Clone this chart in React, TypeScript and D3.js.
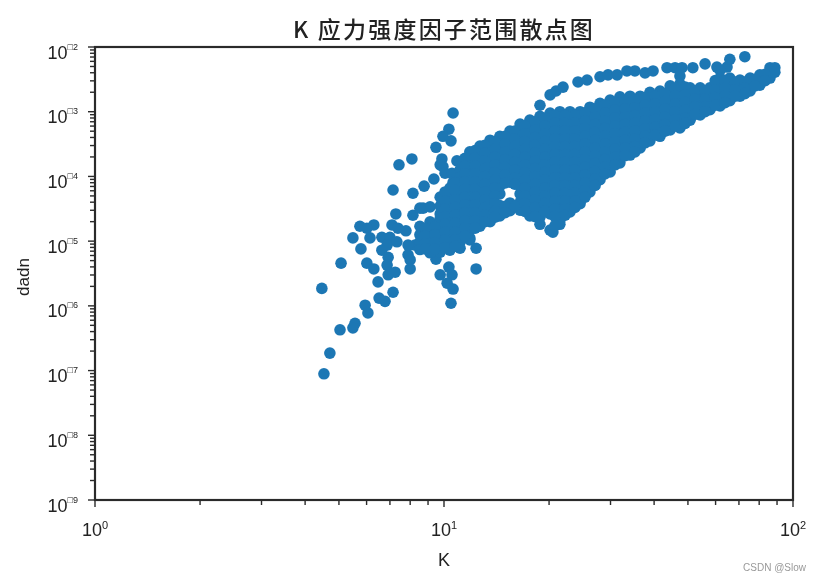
import React from "react";
import * as d3 from "d3";

const title = "K 应力强度因子范围散点图";
const xLabel = "K";
const yLabel = "dadn";
const credit = "CSDN @Slow";
const xDecades = [0, 1, 2];
const yDecades = [-2, -3, -4, -5, -6, -7, -8, -9];

// log10(K), log10(da/dn): scattered points on the left
const sparseLogK = [1.026,1.014,0.997,1.020,0.977,0.908,0.871,0.994,0.989,1.037,0.971,0.943,0.911,0.854,0.862,0.911,0.940,0.759,0.799,0.779,0.788,0.739,0.762,0.705,0.779,0.799,0.650,0.811,0.854,0.814,0.831,0.774,0.782,0.745,0.739,0.702,0.673,0.656,0.851,0.891,0.822,0.845,0.865,0.837,0.822,0.840,0.837,0.860,0.840,0.897,0.903,0.903,0.868,0.977,1.014,0.989,1.023,1.009,1.026,1.020,1.092,1.092,0.917,0.897,0.960,0.997,1.003,1.023,1.026];
const sparseLogD = [-3.02,-3.27,-3.38,-3.45,-3.55,-3.73,-3.82,-3.73,-3.82,-3.76,-4.04,-4.15,-4.26,-4.21,-4.58,-4.60,-4.49,-4.77,-4.75,-4.80,-4.95,-4.95,-5.12,-5.34,-5.34,-5.43,-5.73,-5.63,-5.79,-5.88,-5.93,-5.99,-6.11,-6.27,-6.34,-6.37,-6.73,-7.05,-4.75,-4.84,-4.94,-4.94,-5.01,-5.06,-5.14,-5.25,-5.37,-5.48,-5.52,-5.21,-5.29,-5.43,-4.80,-5.28,-5.40,-5.52,-5.52,-5.65,-5.74,-5.96,-5.11,-5.43,-5.06,-5.06,-4.47,-3.85,-3.95,-3.95,-4.09];

// the upper arc
const arcLogK = [1.275,1.304,1.321,1.341,1.384,1.410,1.447,1.470,1.496,1.524,1.547,1.576,1.599,1.639,1.662,1.682,1.713,1.748,1.782,1.811,1.819,1.862];
const arcLogD = [-2.90,-2.74,-2.68,-2.62,-2.54,-2.51,-2.46,-2.43,-2.43,-2.37,-2.37,-2.40,-2.37,-2.32,-2.32,-2.32,-2.32,-2.26,-2.31,-2.31,-2.19,-2.15];

// the dense band, read column by column
const bandLogK = [0.931,0.960,0.989,1.017,1.046,1.074,1.103,1.132,1.160,1.189,1.218,1.246,1.275,1.304,1.312,1.332,1.361,1.390,1.418,1.447,1.476,1.504,1.533,1.562,1.590,1.619,1.648,1.676,1.705,1.734,1.762,1.791,1.819,1.848,1.877,1.905,1.934,1.948];
const bandLogD = [
  [-4.49,-4.77,-4.90,-5.01,-5.13],
  [-4.70,-4.83,-4.95,-5.07,-5.18],
  [-4.32,-4.46,-4.58,-4.65,-4.77,-4.89,-5.01,-5.13,-5.17],
  [-4.18,-4.30,-4.43,-4.55,-4.67,-4.83,-4.95,-5.07,-5.14],
  [-3.78,-3.90,-4.02,-4.15,-4.27,-4.40,-4.49,-4.61,-4.77,-4.89,-5.01,-5.11],
  [-3.62,-3.75,-3.84,-3.96,-4.09,-4.21,-4.33,-4.46,-4.55,-4.67,-4.83,-4.95,-4.98],
  [-3.53,-3.65,-3.78,-3.90,-4.02,-4.15,-4.27,-4.40,-4.52,-4.61,-4.77],
  [-3.44,-3.59,-3.72,-3.84,-3.96,-4.09,-4.21,-4.33,-4.46,-4.58,-4.70],
  [-3.38,-3.50,-3.65,-3.78,-3.90,-4.02,-4.15,-4.27,-4.45,-4.52,-4.61],
  [-3.30,-3.42,-3.55,-3.71,-3.84,-3.96,-4.09,-4.41,-4.53],
  [-3.19,-3.31,-3.44,-3.56,-3.65,-3.78,-3.90,-4.02,-4.15,-4.27,-4.40,-4.52],
  [-3.13,-3.25,-3.38,-3.50,-3.60,-3.71,-3.84,-3.96,-4.09,-4.21,-4.33,-4.46,-4.61],
  [-3.07,-3.19,-3.31,-3.44,-3.56,-3.65,-3.78,-3.90,-4.02,-4.15,-4.27,-4.40,-4.52,-4.63,-4.74],
  [-3.02,-3.14,-3.27,-3.39,-3.51,-3.60,-3.71,-3.84,-3.96,-4.09,-4.21,-4.33,-4.46,-4.58,-4.83],
  [-4.86],
  [-3.00,-3.08,-3.20,-3.33,-3.45,-3.57,-3.70,-3.82,-3.94,-4.07,-4.19,-4.31,-4.44,-4.56,-4.68,-4.74],
  [-3.00,-3.13,-3.25,-3.38,-3.50,-3.62,-3.75,-3.87,-3.99,-4.12,-4.24,-4.36,-4.49,-4.55],
  [-3.00,-3.07,-3.19,-3.31,-3.44,-3.56,-3.68,-3.81,-3.93,-4.05,-4.18,-4.30,-4.42],
  [-2.93,-3.00,-3.12,-3.24,-3.37,-3.49,-3.62,-3.74,-3.86,-3.99,-4.11,-4.24],
  [-2.87,-2.94,-3.06,-3.18,-3.31,-3.43,-3.55,-3.68,-3.80,-3.93,-4.05],
  [-2.82,-2.88,-3.00,-3.12,-3.25,-3.37,-3.49,-3.62,-3.74,-3.86,-3.93],
  [-2.77,-2.82,-2.94,-3.06,-3.19,-3.31,-3.43,-3.56,-3.68,-3.79],
  [-2.76,-2.88,-3.00,-3.13,-3.25,-3.37,-3.50,-3.62,-3.67],
  [-2.76,-2.82,-2.94,-3.07,-3.19,-3.31,-3.44,-3.56],
  [-2.70,-2.76,-2.88,-3.00,-3.13,-3.25,-3.37,-3.45],
  [-2.68,-2.82,-2.94,-3.07,-3.19,-3.31,-3.38],
  [-2.60,-2.68,-2.76,-2.88,-3.00,-3.13,-3.25,-3.28],
  [-2.45,-2.57,-2.70,-2.82,-2.94,-3.07,-3.19,-3.25],
  [-2.63,-2.76,-2.88,-3.00,-3.13],
  [-2.63,-2.70,-2.82,-2.94,-3.05],
  [-2.63,-2.76,-2.88,-2.97],
  [-2.36,-2.48,-2.60,-2.70,-2.82,-2.91],
  [-2.48,-2.55,-2.64,-2.76,-2.83],
  [-2.51,-2.58,-2.70,-2.76],
  [-2.48,-2.52,-2.64,-2.68],
  [-2.43,-2.52,-2.59],
  [-2.32,-2.43,-2.48],
  [-2.32,-2.39],
];

// the points packed between those columns
const coreLogK = [0.946,0.974,1.003,1.032,1.060,1.089,1.117,1.146,1.175,1.203,1.232,1.261,1.289,1.318,1.347,1.375,1.404,1.433,1.461,1.490,1.519,1.547,1.576,1.605,1.633,1.662,1.691,1.719,1.748,1.777,1.805,1.834,1.862,1.891,1.920];
const coreLogD = [
  [-4.80,-4.92,-5.04,-5.12],
  [-4.78,-4.90,-5.02,-5.12],
  [-4.24,-4.38,-4.50,-4.62,-4.74,-4.86,-4.98,-5.10],
  [-4.10,-4.22,-4.36,-4.48,-4.60,-4.72,-4.86,-4.98,-5.08],
  [-3.72,-3.84,-3.96,-4.08,-4.20,-4.32,-4.44,-4.56,-4.68,-4.80,-4.92],
  [-3.60,-3.72,-3.84,-3.96,-4.08,-4.20,-4.32,-4.44,-4.56,-4.68,-4.80],
  [-3.52,-3.64,-3.76,-3.88,-4.00,-4.12,-4.24,-4.36,-4.48,-4.60,-4.70],
  [-3.46,-3.58,-3.70,-3.82,-3.94,-4.06,-4.18,-4.30,-4.42,-4.54,-4.63],
  [-3.38,-3.50,-3.62,-3.74,-3.86,-3.98,-4.10,-4.46,-4.56],
  [-3.30,-3.42,-3.54,-3.66,-3.78,-3.90,-4.02,-4.12,-4.46],
  [-3.22,-3.34,-3.46,-3.58,-3.70,-3.82,-3.94,-4.06,-4.18,-4.30,-4.42,-4.54],
  [-3.16,-3.28,-3.40,-3.52,-3.64,-3.76,-3.88,-4.00,-4.12,-4.24,-4.36,-4.48,-4.62],
  [-3.10,-3.22,-3.34,-3.46,-3.58,-3.70,-3.82,-3.94,-4.06,-4.18,-4.30,-4.42,-4.54],
  [-3.06,-3.18,-3.30,-3.42,-3.54,-3.66,-3.78,-3.90,-4.02,-4.14,-4.26,-4.38,-4.50,-4.62,-4.76],
  [-3.06,-3.18,-3.30,-3.42,-3.54,-3.66,-3.78,-3.90,-4.02,-4.14,-4.26,-4.38,-4.50,-4.60],
  [-3.06,-3.18,-3.30,-3.42,-3.54,-3.66,-3.78,-3.90,-4.02,-4.14,-4.26,-4.38,-4.48],
  [-3.02,-3.14,-3.26,-3.38,-3.50,-3.62,-3.74,-3.86,-3.98,-4.10,-4.22,-4.32],
  [-2.96,-3.08,-3.20,-3.32,-3.44,-3.56,-3.68,-3.80,-3.92,-4.04,-4.14],
  [-2.90,-3.02,-3.14,-3.26,-3.38,-3.50,-3.62,-3.74,-3.86,-3.96],
  [-2.86,-2.98,-3.10,-3.22,-3.34,-3.46,-3.58,-3.70,-3.82],
  [-2.84,-2.96,-3.08,-3.20,-3.32,-3.44,-3.56,-3.68],
  [-2.82,-2.94,-3.06,-3.18,-3.30,-3.42,-3.54,-3.62],
  [-2.78,-2.90,-3.02,-3.14,-3.26,-3.38,-3.48],
  [-2.76,-2.88,-3.00,-3.12,-3.24,-3.36],
  [-2.72,-2.84,-2.96,-3.08,-3.20,-3.30],
  [-2.64,-2.76,-2.88,-3.00,-3.12,-3.22],
  [-2.62,-2.74,-2.86,-2.98,-3.10,-3.18],
  [-2.68,-2.80,-2.92,-3.04],
  [-2.68,-2.80,-2.92,-3.00],
  [-2.52,-2.66,-2.78,-2.90],
  [-2.52,-2.64,-2.76,-2.86],
  [-2.54,-2.66,-2.76],
  [-2.54,-2.64,-2.72],
  [-2.50,-2.60],
  [-2.42,-2.52],
];

const W = 821, H = 581;
const left = 95, right = 793, top = 47, bottom = 500;
const ink = "#2a2a2a";
const sans = "'Liberation Sans', Arial, sans-serif";

const x = d3.scaleLog().domain([1, 100]).range([left, right]);
const y = d3.scaleLog().domain([1e-9, 1e-2]).range([bottom, top]);

const isMajor = (v: number) => Math.abs(Math.log10(v) - Math.round(Math.log10(v))) < 1e-9;

const points: [number, number][] = [
  ...sparseLogK.map((k, i) => [k, sparseLogD[i]] as [number, number]),
  ...arcLogK.map((k, i) => [k, arcLogD[i]] as [number, number]),
  ...bandLogK.flatMap((k, i) => bandLogD[i].map((d) => [k, d] as [number, number])),
  ...coreLogK.flatMap((k, i) => coreLogD[i].map((d) => [k, d] as [number, number])),
];

export default function App() {
  return (
    <svg width={W} height={H} style={{ position: "absolute", left: 0, top: 0, background: "#fff" }}>
      <defs>
        <filter id="soft" x="-5%" y="-5%" width="110%" height="110%">
          <feGaussianBlur stdDeviation="0.55" />
        </filter>
      </defs>
      <g filter="url(#soft)">
        <g fill="#1f77b4">
          {points.map(([k, d], i) => (
            <circle key={i} cx={x(Math.pow(10, k))} cy={y(Math.pow(10, d))} r={5.8} />
          ))}
        </g>
        <g stroke={ink}>
          {x.ticks().map((v, i) => (
            <line key={i} x1={x(v)} x2={x(v)} y1={bottom} y2={bottom + (isMajor(v) ? 7 : 5)} strokeWidth={1.4} />
          ))}
          {y.ticks().map((v, i) => (
            <line key={i} x1={left} x2={left - (isMajor(v) ? 7 : 5)} y1={y(v)} y2={y(v)} strokeWidth={1.4} />
          ))}
        </g>
        <rect x={left} y={top} width={right - left} height={bottom - top} fill="none" stroke={ink} strokeWidth={2.2} />
        <g fontFamily={sans} fill="#222">
          {xDecades.map((e) => (
            <text key={e} x={x(Math.pow(10, e))} y={bottom + 36} textAnchor="middle" fontSize={18}>
              10<tspan fontSize={11} dy={-7}>{e}</tspan>
            </text>
          ))}
          {yDecades.map((e) => (
            <text key={e} x={78} y={y(Math.pow(10, e)) + 11.5} textAnchor="end" fontSize={18}>
              10<tspan fontSize={9} dy={-9}>{"□" + Math.abs(e)}</tspan>
            </text>
          ))}
          <text x={444} y={566} textAnchor="middle" fontSize={18}>{xLabel}</text>
          <text transform="translate(29,277) rotate(-90)" textAnchor="middle" fontSize={17}>{yLabel}</text>
        </g>
        <text x={293} y={38} fontFamily="'Noto Sans CJK SC', sans-serif" fontWeight={500} fontSize={23} letterSpacing={2.2} fill="#222">{title}</text>
        <text x={806} y={571} textAnchor="end" fontFamily={sans} fontSize={10} fill="#999">{credit}</text>
      </g>
    </svg>
  );
}
